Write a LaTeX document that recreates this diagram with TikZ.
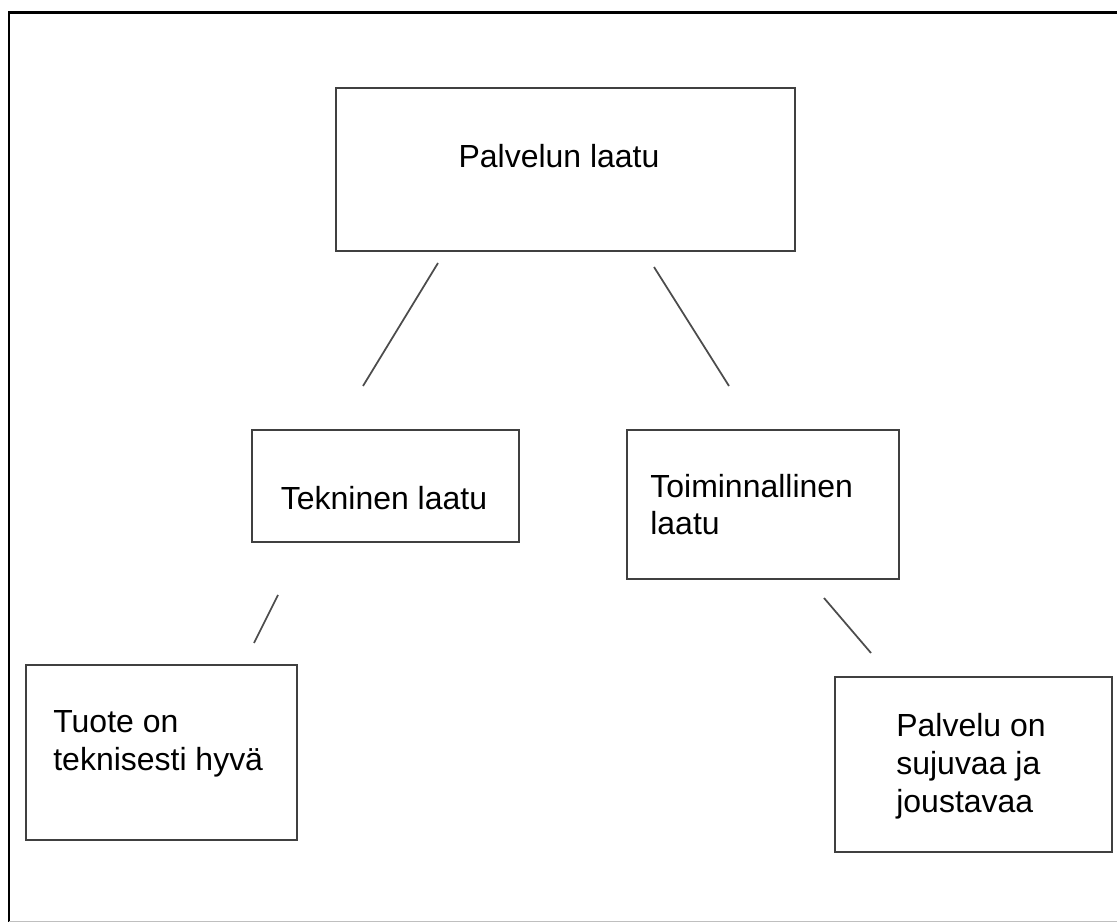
\documentclass[tikz,border=0pt]{standalone}
\usepackage{fontspec}
\setmainfont{Liberation Sans}
\usepackage{tikz}
\usetikzlibrary{positioning, calc}

\begin{document}
\begin{tikzpicture}[
    x=0.02cm, y=-0.02cm,
    box/.style={draw=black!75, line width=0.04cm, minimum width=5.4cm, minimum height=3.5cm, inner sep=0pt},
    txt/.style={font=\fontsize{18.2}{21.6}\selectfont, inner sep=0pt, align=left},
    link/.style={draw=black!70, line width=0.035cm},
]
\useasboundingbox (0,0) rectangle (1117,922);

% Frame
\draw[line width=0.06cm] (1117,13) -- (9,13) -- (9,922);
\draw[black!25, line width=0.02cm] (9,921) -- (1117,921);

% Palvelun laatu
\node[box, minimum width=9.18cm, minimum height=3.26cm] (laatu) at (565.5,169.5) {};
\node[txt, anchor=base] (laatuT) at (559,168) {Palvelun laatu};

% Tekninen laatu
\node[box, minimum width=5.34cm, minimum height=2.24cm] (tekn) at (385.5,486) {};
\node[txt, anchor=base] (teknT) at (384,510) {Tekninen laatu};

% Toiminnallinen laatu (base = last line)
\node[box, minimum width=5.44cm, minimum height=2.98cm] (toim) at (763,504.5) {};
\node[txt, anchor=base west] (toimT) at (650,535) {Toiminnallinen\\laatu};

% Tuote on teknisesti hyva
\node[box, minimum width=5.42cm, minimum height=3.5cm] (tuote) at (161.5,752.5) {};
\node[txt, anchor=base west] (tuoteT) at (53,770) {Tuote on\\teknisesti hyvä};

% Palvelu on sujuvaa ja joustavaa
\node[box, minimum width=5.54cm, minimum height=3.5cm] (palv) at (973.5,764.5) {};
\node[txt, anchor=base west] (palvT) at (896,812) {Palvelu on\\sujuvaa ja\\joustavaa};

% Links (free ends)
\coordinate (l1a) at (438,263);
\coordinate (l1b) at (363,386);
\coordinate (l2a) at (654,267);
\coordinate (l2b) at (729,386);
\coordinate (l3a) at (278,595);
\coordinate (l3b) at (254,643);
\coordinate (l4a) at (824,598);
\coordinate (l4b) at (871,653);
\draw[link] (l1a) -- (l1b);
\draw[link] (l2a) -- (l2b);
\draw[link] (l3a) -- (l3b);
\draw[link] (l4a) -- (l4b);

\end{tikzpicture}
\end{document}
